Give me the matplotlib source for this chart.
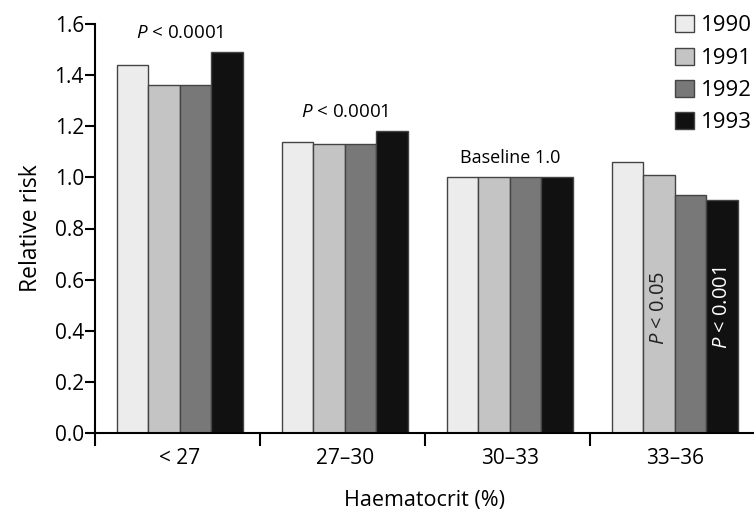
import numpy as np
import matplotlib.pyplot as plt
from matplotlib.patches import Patch

plt.rcParams['font.family'] = ['Open Sans', 'DejaVu Sans']
plt.rcParams['mathtext.fontset'] = 'custom'
plt.rcParams['mathtext.it'] = 'Open Sans:italic'
plt.rcParams['mathtext.rm'] = 'Open Sans'

# haematocrit bands and relative risk per year
groups = ["< 27", "27\u201330", "30\u201333", "33\u201336"]
years = ["1990", "1991", "1992", "1993"]
rr_1990 = [1.44, 1.14, 1.00, 1.06]
rr_1991 = [1.36, 1.13, 1.00, 1.01]
rr_1992 = [1.36, 1.13, 1.00, 0.93]
rr_1993 = [1.49, 1.18, 1.00, 0.91]
colours = ["#ececec", "#c4c4c4", "#787878", "#111111"]

fig = plt.figure(figsize=(7.54, 5.15), dpi=100)
ax = fig.add_axes([95/754, 82/515, 659/754, 409/515])

bw = 0.191
start = 0.133
series = [rr_1990, rr_1991, rr_1992, rr_1993]
x = np.arange(len(groups))
for i, vals in enumerate(series):
    ax.bar(x + start + i*bw, vals, width=bw, align='edge', color=colours[i],
           edgecolor='#444444', linewidth=1.0, label=years[i])

ax.set_xlim(0, 659/165)
ax.set_ylim(0, 1.6)
ax.spines['top'].set_visible(False)
ax.spines['right'].set_visible(False)
ax.spines['left'].set_linewidth(1.5)
ax.spines['bottom'].set_linewidth(1.5)

ax.set_yticks(np.arange(0, 1.61, 0.2))
ax.set_yticklabels([f"{v:.1f}" for v in np.arange(0, 1.61, 0.2)])
ax.tick_params(axis='y', length=7, width=1.5, labelsize=15, pad=1)

ax.set_xticks(x + start + 2*bw)
ax.set_xticklabels(groups)
ax.tick_params(axis='x', which='major', length=0, labelsize=15, pad=11)
ax.set_xticks(np.arange(0, 4), minor=True)
ax.tick_params(axis='x', which='minor', length=9, width=1.5, direction='out')

ax.set_xlabel("Haematocrit (%)", fontsize=15.5, labelpad=15)
ax.set_ylabel("Relative risk", fontsize=16.5, labelpad=8)

ax.text(x[0] + start + 2*bw, 1.53, r"$\it{P}$ < 0.0001", ha='center', va='bottom', fontsize=13.5)
ax.text(x[1] + start + 2*bw, 1.22, r"$\it{P}$ < 0.0001", ha='center', va='bottom', fontsize=13.5)
ax.text(x[2] + start + 2*bw, 1.04, "Baseline 1.0", ha='center', va='bottom', fontsize=13)
ax.text(x[3] + start + 1.5*bw, 0.49, r"$\it{P}$ < 0.05", ha='center', va='center',
        rotation=90, fontsize=14.5, color='#222222')
ax.text(x[3] + start + 3.5*bw, 0.49, r"$\it{P}$ < 0.001", ha='center', va='center',
        rotation=90, fontsize=14.5, color='white')

handles = [Patch(facecolor=colours[i], edgecolor='#444444', linewidth=1.0) for i in range(4)]
fig.legend(handles, years, loc='upper right', bbox_to_anchor=(1.0, 1 - 13/515),
           frameon=False, fontsize=16, handlelength=0.85, handleheight=0.8,
           handletextpad=0.3, labelspacing=0.5, borderaxespad=0, borderpad=0.1)

fig.savefig("out.png", dpi=100)
